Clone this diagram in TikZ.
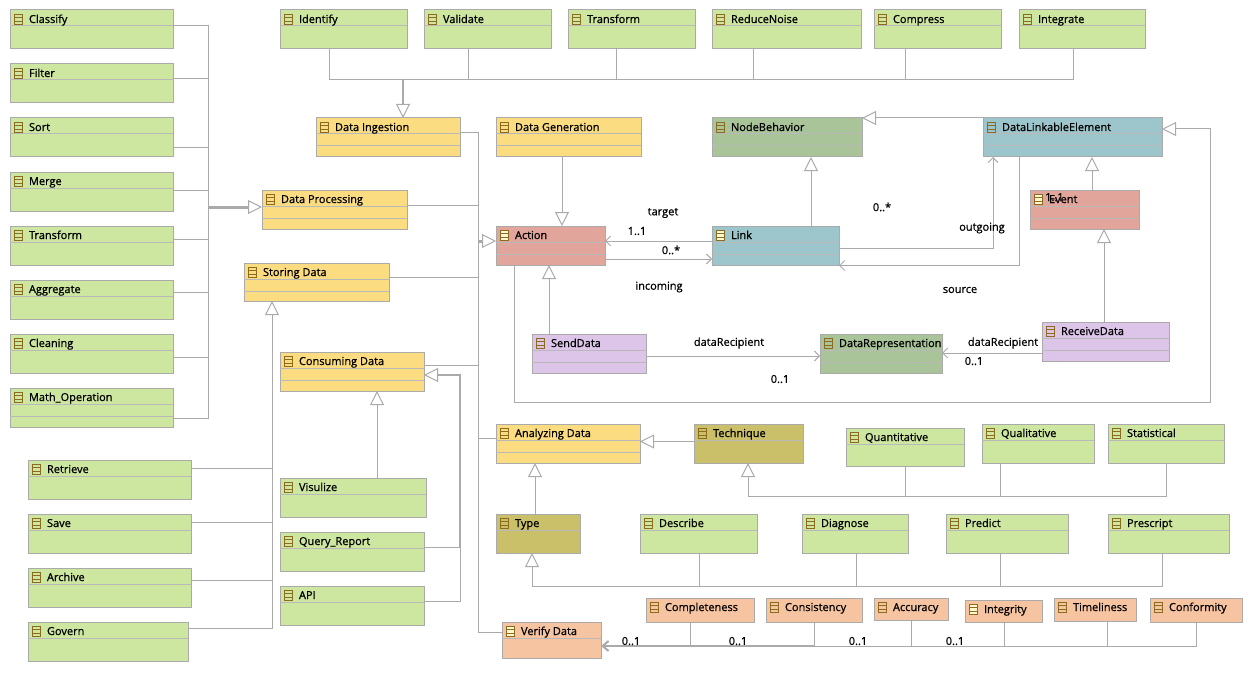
\documentclass[tikz,border=0pt]{standalone}
\usepackage{fontspec}
\setmainfont{Open Sans}
\newfontfamily\umlfont{Open Sans}[FakeBold=0.8]
\usetikzlibrary{arrows.meta}
\definecolor{cgreen}{RGB}{205,230,160}
\definecolor{cyellow}{RGB}{251,220,128}
\definecolor{csage}{RGB}{168,196,152}
\definecolor{cblue}{RGB}{157,198,204}
\definecolor{csalmon}{RGB}{226,165,155}
\definecolor{clilac}{RGB}{221,197,234}
\definecolor{colive}{RGB}{203,192,106}
\definecolor{cpeach}{RGB}{246,196,160}
\definecolor{cborder}{RGB}{170,170,170}
\definecolor{cline}{RGB}{185,185,185}
\definecolor{cconn}{RGB}{170,170,170}
\definecolor{cicon}{RGB}{140,106,30}
\definecolor{ciconfill}{RGB}{255,248,208}
\tikzset{
  umlcls/.style={rectangle, draw=cborder, line width=1pt, inner sep=0pt, outer sep=0pt},
  compline/.style={draw=cline, line width=1pt},
  umlicon/.style={draw=cicon, line width=0.9pt},
  umltext/.style={font=\umlfont\fontsize{11}{13}\selectfont, text=black, inner sep=0pt, outer sep=0pt},
  lab/.style={font=\umlfont\fontsize{11}{13}\selectfont, text=black, inner sep=0pt},
  conn/.style={draw=cconn, line width=1pt},
  gen/.style={conn, -{Triangle[open, length=14pt, width=14pt]}},
  assoc/.style={conn, -{Straight Barb[length=5pt, width=10pt]}},
  bundle/.style={conn, line width=3pt},
  bundlethin/.style={conn, line width=2pt},
}
% [#1 icon opts]{#2 name}{#3 fill}{#4 x}{#5 y}{#6 w}{#7 h}{#8 lines}{#9 label}
\newcommand\umlbox[9][]{%
  \node[umlcls, fill=#3, minimum width=#6pt, minimum height=#7pt, anchor=north west] (#2) at (#4,#5) {};
  \ifnum#8>0\relax \draw[compline] ([yshift=-16]#2.north west) -- ([yshift=-16]#2.north east);\fi
  \ifnum#8>1\relax \draw[compline] ([yshift=-28]#2.north west) -- ([yshift=-28]#2.north east);\fi
  \draw[umlicon,#1] ([xshift=4,yshift=-4]#2.north west) rectangle ([xshift=12.5,yshift=-14.5]#2.north west);
  \draw[umlicon] ([xshift=4,yshift=-7.5]#2.north west) -- ([xshift=12.5,yshift=-7.5]#2.north west);
  \draw[umlicon] ([xshift=4,yshift=-11]#2.north west) -- ([xshift=12.5,yshift=-11]#2.north west);
  \node[umltext, anchor=base west] (#2-t) at ([xshift=19,yshift=-13]#2.north west) {#9};
}
\begin{document}
\begin{tikzpicture}[x=1pt,y=-1pt]
\fill[white] (0,0) rectangle (1253,674);
\useasboundingbox (0,0) rectangle (1253,674);

% ---------- boxes ----------
\umlbox{Classify}{cgreen}{10}{10}{163}{39}{1}{Classify}
\umlbox{Filter}{cgreen}{10}{64}{163}{39}{1}{Filter}
\umlbox{Sort}{cgreen}{10}{118}{163}{39}{1}{Sort}
\umlbox{Merge}{cgreen}{10}{172}{163}{39}{1}{Merge}
\umlbox{TransformL}{cgreen}{10}{226}{163}{39}{1}{Transform}
\umlbox{Aggregate}{cgreen}{10}{280}{163}{39}{1}{Aggregate}
\umlbox{Cleaning}{cgreen}{10}{334}{163}{39}{1}{Cleaning}
\umlbox{MathOp}{cgreen}{10}{388}{163}{39}{2}{Math\_Operation}

\umlbox{Identify}{cgreen}{280}{10}{127}{39}{1}{Identify}
\umlbox{Validate}{cgreen}{424}{10}{127}{39}{1}{Validate}
\umlbox{TransformT}{cgreen}{568}{10}{127}{39}{1}{Transform}
\umlbox{ReduceNoise}{cgreen}{712}{10}{149}{39}{1}{ReduceNoise}
\umlbox{Compress}{cgreen}{874}{10}{127}{39}{1}{Compress}
\umlbox{Integrate}{cgreen}{1019}{10}{126}{39}{1}{Integrate}

\umlbox{DI}{cyellow}{316}{118}{144}{39}{2}{Data Ingestion}
\umlbox{DG}{cyellow}{496}{118}{145}{39}{2}{Data Generation}
\umlbox{NB}{csage}{712}{118}{150}{39}{2}{NodeBehavior}
\umlbox{DLE}{cblue}{983}{118}{179}{39}{2}{DataLinkableElement}
\umlbox{DP}{cyellow}{262}{190}{145}{39}{2}{Data Processing}
\umlbox[fill=ciconfill]{Event}{csalmon}{1030}{190}{109}{39}{2}{Event}
\umlbox[fill=ciconfill]{Action}{csalmon}{496}{226}{109}{39}{2}{Action}
\umlbox[fill=ciconfill]{Link}{cblue}{712}{226}{127}{39}{2}{Link}
\umlbox{SD}{cyellow}{244}{263}{145}{38}{2}{Storing Data}
\umlbox{SendData}{clilac}{532}{334}{114}{39}{2}{SendData}
\umlbox{DR}{csage}{820}{334}{122}{39}{2}{DataRepresentation}
\umlbox{RD}{clilac}{1042}{322}{127}{39}{2}{ReceiveData}
\umlbox{CD}{cyellow}{280}{352}{144}{39}{2}{Consuming Data}
\umlbox{AD}{cyellow}{496}{424}{144}{39}{2}{Analyzing Data}
\umlbox{Tech}{colive}{694}{424}{109}{39}{1}{Technique}
\umlbox{Quant}{cgreen}{846}{428}{118}{38}{1}{Quantitative}
\umlbox{Qual}{cgreen}{982}{424}{112}{39}{1}{Qualitative}
\umlbox{Stat}{cgreen}{1108}{424}{116}{39}{1}{Statistical}
\umlbox{Retrieve}{cgreen}{28}{460}{163}{39}{1}{Retrieve}
\umlbox{Visulize}{cgreen}{280}{478}{146}{39}{1}{Visulize}
\umlbox{Type}{colive}{496}{514}{84}{39}{1}{Type}
\umlbox{Describe}{cgreen}{640}{514}{117}{39}{1}{Describe}
\umlbox{Diagnose}{cgreen}{802}{514}{106}{39}{1}{Diagnose}
\umlbox{Predict}{cgreen}{946}{514}{122}{39}{1}{Predict}
\umlbox{Prescript}{cgreen}{1108}{514}{121}{39}{1}{Prescript}
\umlbox{Save}{cgreen}{28}{514}{163}{39}{1}{Save}
\umlbox{QR}{cgreen}{280}{532}{144}{39}{1}{Query\_Report}
\umlbox{Archive}{cgreen}{28}{568}{163}{39}{1}{Archive}
\umlbox{API}{cgreen}{280}{586}{144}{39}{1}{API}
\umlbox{Govern}{cgreen}{28}{622}{160}{39}{1}{Govern}
\umlbox[fill=ciconfill]{VD}{cpeach}{502}{622}{99}{36}{1}{Verify Data}
\umlbox{Completeness}{cpeach}{646}{598}{108}{24}{0}{Completeness}
\umlbox{Consistency}{cpeach}{766}{598}{96}{24}{0}{Consistency}
\umlbox{Accuracy}{cpeach}{874}{598}{74}{22}{0}{Accuracy}
\umlbox[fill=ciconfill]{Integrity}{cpeach}{965}{600}{77}{22}{0}{Integrity}
\umlbox{Timeliness}{cpeach}{1054}{598}{82}{23}{0}{Timeliness}
\umlbox{Conformity}{cpeach}{1150}{598}{92}{24}{0}{Conformity}
\node[lab, anchor=base west] (evmult) at (1045,201) {1..1};

% ---------- left bus -> Data Processing ----------
\coordinate (pj) at (208,207);
\foreach \n/\dd in {Classify/16,Filter/15,Sort/30,Merge/18,TransformL/13,Aggregate/12,Cleaning/23,MathOp/30}
  \draw[conn] ([yshift=-\dd]\n.north east) -| (pj);
\draw[gen] (pj) -- ([yshift=-17]DP.north west);
\draw[bundle] (pj) -- ([xshift=-14,yshift=-17]DP.north west);

% ---------- top bus -> Data Ingestion ----------
\coordinate (tj) at (403,80);
\foreach \n/\dd in {Identify/49,Validate/44,TransformT/48,ReduceNoise/41,Compress/31,Integrate/54}
  \draw[conn] ([xshift=\dd]\n.south west) |- (tj);
\draw[gen] (tj) -- ([xshift=87]DI.north west);
\draw[bundlethin] (tj) -- ([xshift=87,yshift=14]DI.north west);

% ---------- right bus -> Action ----------
\coordinate (aj) at (478,241);
\foreach \n/\dd in {DI/15,DP/15,SD/14,CD/13}
  \draw[conn] ([yshift=-\dd]\n.north east) -| (aj);
\draw[conn] ([yshift=-14]AD.north west) -| (aj);
\draw[conn] ([yshift=-10]VD.north west) -| (aj);
\draw[gen] (aj) -- ([yshift=-15]Action.north west);
\draw[bundle] (aj) -- ([xshift=-14,yshift=-15]Action.north west);

% ---------- Storing Data ----------
\coordinate (sj) at (272,468);
\foreach \n/\dd in {Retrieve/8,Save/8,Archive/12,Govern/6}
  \draw[conn] ([yshift=-\dd]\n.north east) -| (sj);
\draw[gen] (sj) -- ([xshift=28]SD.south west);

% ---------- Consuming Data ----------
\coordinate (qj) at (460,547);
\foreach \n in {QR,API}
  \draw[conn] ([yshift=-15]\n.north east) -| (qj);
\draw[gen] (qj) |- ([yshift=-23]CD.north east);
\draw[bundlethin] (qj) |- ([xshift=14,yshift=-23]CD.north east);
\draw[gen] ([xshift=97]Visulize.north west) -- ([xshift=97]CD.south west);

% ---------- core model ----------
\draw[gen] ([xshift=66]DG.south west) -- ([xshift=66]Action.north west);
\draw[gen] ([xshift=99]Link.north west) -- ([xshift=99]NB.south west);
\draw[gen] (DLE.north west) -- (NB.north east);
\draw[gen] ([xshift=62]Event.north west) -- ([xshift=109]DLE.south west);
\draw[gen] ([xshift=62]RD.north west) -- ([xshift=74]Event.south west);
\draw[gen] ([xshift=17]SendData.north west) -- ([xshift=53]Action.south west);
\coordinate (lp) at (1210,402);
\draw[gen] ([xshift=18]Action.south west) |- (lp) |- ([yshift=-11]DLE.north east);
\draw[assoc] ([yshift=-15]Link.north west) -- ([yshift=-15]Action.north east);
\draw[assoc] ([yshift=-33]Action.north east) -- ([yshift=-33]Link.north west);
\draw[assoc] ([yshift=-22]Link.north east) -| ([xshift=10]DLE.south west);
\draw[assoc] ([xshift=36]DLE.south west) |- ([yshift=-39.5]Link.north east);
\draw[assoc] ([yshift=-22]SendData.north east) -- ([yshift=-22]DR.north west);
\draw[assoc] ([yshift=-31]RD.north west) -- ([yshift=-19]DR.north east);

\node[lab] (l-target) at (663,213) {target};
\node[lab] (l-11a) at (637,231) {1..1};
\node[lab] (l-0sa) at (671,250) {0..*};
\node[lab] (l-incoming) at (659,287) {incoming};
\node[lab] (l-0sb) at (882,207) {0..*};
\node[lab] (l-outgoing) at (982,228) {outgoing};
\node[lab] (l-source) at (960,290) {source};
\node[lab] (l-dr1) at (729,343) {dataRecipient};
\node[lab] (l-01a) at (780,379) {0..1};
\node[lab] (l-dr2) at (1003,343) {dataRecipient};
\node[lab] (l-01b) at (974,361) {0..1};

% ---------- Analyzing ----------
\draw[gen] ([yshift=-17.5]Tech.north west) -- ([yshift=-17.5]AD.north east);
\draw[gen] ([xshift=39]Type.north west) -- ([xshift=39]AD.south west);
\coordinate (ty) at (532,586);
\foreach \n/\dd in {Describe/59,Diagnose/54,Predict/54,Prescript/54}
  \draw[conn] ([xshift=\dd]\n.south west) |- (ty);
\draw[gen] (ty) -- ([xshift=36]Type.south west);
\coordinate (tq) at (748,496);
\foreach \n/\dd in {Quant/59,Qual/18,Stat/58}
  \draw[conn] ([xshift=\dd]\n.south west) |- (tq);
\draw[gen] (tq) -- ([xshift=54]Tech.south west);

% ---------- Quality ----------
\coordinate (vj) at (690,646);
\coordinate (vj2) at (814,646);
\foreach \n/\dd in {Completeness/44,Consistency/48,Accuracy/37,Integrity/39,Timeliness/53,Conformity/46}
  \draw[conn] ([xshift=\dd]\n.south west) |- (vj);
\draw[bundlethin] (vj2) -- (vj);
\draw[conn, line width=2pt, -{Straight Barb[length=6pt, width=10pt]}] (vj) -- ([yshift=-24]VD.north east);
\node[lab] (l-q1) at (631,641) {0..1};
\node[lab] (l-q2) at (738,641) {0..1};
\node[lab] (l-q3) at (858,641) {0..1};
\node[lab] (l-q4) at (955,641) {0..1};
\end{tikzpicture}
\end{document}
